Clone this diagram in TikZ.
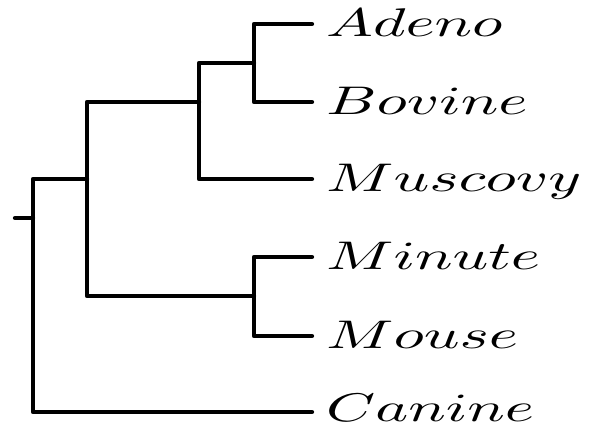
\documentclass[tikz,border=0pt]{standalone}
\newcommand{\taxname}[1]{\scalebox{6.25}[4]{$#1$}}
\begin{document}
\begin{tikzpicture}[x=1pt,y=1pt,
  branch/.style={line width=4.3pt,line cap=round,line join=round},
  taxon/.style={anchor=base west,inner sep=0pt}]
\useasboundingbox (0,0) rectangle (590,430);
% tree vertices (y flipped: Y = 430 - y)
\coordinate (stub) at (15,212);
\coordinate (r) at (33,212);
\coordinate (i) at (87,251);
\coordinate (nA) at (199,328);
\coordinate (nB) at (254,367);
\coordinate (nC) at (254,134);
% leaf tips
\coordinate (tAdeno) at (312,406);
\coordinate (tBovine) at (312,328);
\coordinate (tMuscovy) at (312,251);
\coordinate (tMinute) at (312,173);
\coordinate (tMouse) at (312,94);
\coordinate (tCanine) at (312,18);
% branches
\draw[branch] (stub) -- (r);
\draw[branch] (i) -| (r) |- (tCanine);
\draw[branch] (nA) -| (i) |- (nC);
\draw[branch] (nB) -| (nA) |- (tMuscovy);
\draw[branch] (tAdeno) -| (nB) |- (tBovine);
\draw[branch] (tMinute) -| (nC) |- (tMouse);
% labels
\node[taxon] (lAdeno) at (326,393) {\taxname{Adeno}};
\node[taxon] (lBovine) at (326,315) {\taxname{Bovine}};
\node[taxon] (lMuscovy) at (326,238) {\taxname{Muscovy}};
\node[taxon] (lMinute) at (326,160) {\taxname{Minute}};
\node[taxon] (lMouse) at (326,81) {\taxname{Mouse}};
\node[taxon] (lCanine) at (326,8) {\taxname{Canine}};
\end{tikzpicture}
\end{document}
